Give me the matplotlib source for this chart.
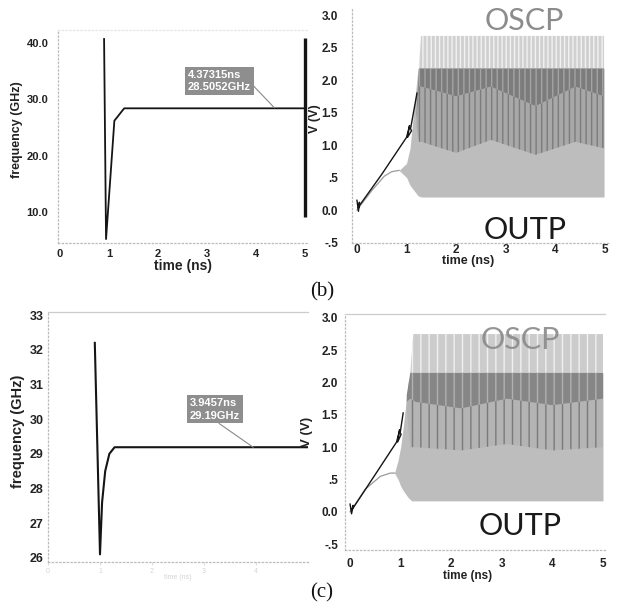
import matplotlib
matplotlib.use('Agg')
import matplotlib.pyplot as plt

plt.rcParams['font.family'] = ['Liberation Sans', 'DejaVu Sans']
plt.rcParams['hatch.linewidth'] = 1.0

# ---- data ----
# (b) frequency vs time
fb_t = [0.90, 0.94, 1.11, 1.31, 5.00]
fb_f = [40.7, 5.2, 26.2, 28.4, 28.4]
fb_edge_t = 5.0
fb_edge_f = [9.1, 40.9]
fb_mark = (4.37315, 28.5052)
fb_text = '4.37315ns\n28.5052GHz'
fb_yticks = [10, 20, 30, 40]
fb_ylabels = ['10.0', '20.0', '30.0', '40.0']

# (c) frequency vs time
fc_t = [0.90, 1.00, 1.04, 1.10, 1.18, 1.28, 5.00]
fc_f = [32.2, 26.1, 27.6, 28.5, 29.0, 29.19, 29.19]
fc_mark = (3.9457, 29.19)
fc_text = '3.9457ns\n29.19GHz'
fc_yticks = [26, 27, 28, 29, 30, 31, 32, 33]

t_ticks = [0, 1, 2, 3, 4, 5]
v_ticks = [-0.5, 0.0, 0.5, 1.0, 1.5, 2.0, 2.5, 3.0]
v_labels = ['-.5', '0.0', '.5', '1.0', '1.5', '2.0', '2.5', '3.0']

# (b) voltage waveforms (envelopes of the fast oscillation)
b_ramp_t = [0.0, 0.03, 0.05, 0.03, 0.06, 0.5, 1.0, 1.06, 1.02, 1.1, 1.08, 1.21]
b_ramp_v = [0.15, -0.02, 0.12, 0.03, 0.08, 0.55, 1.12, 1.3, 1.12, 1.22, 1.25, 1.8]
b_init_t = [0.0, 0.3, 0.55, 0.7, 0.85]
b_init_v = [0.0, 0.3, 0.52, 0.59, 0.61]
b_env_t = [0.85, 1.0, 1.07, 1.23, 1.3, 4.98]
b_env_lo = [0.61, 0.5, 0.38, 0.22, 0.2, 0.2]
b_env_hi = [0.61, 0.72, 0.95, 2.18, 2.18, 2.18]
b_osc_t = [1.25, 1.29, 4.98]
b_osc_hi = [2.18, 2.68, 2.68]
b_osc_lo = [2.18, 2.18, 2.18]
b_dk_t = [1.2, 1.25, 1.3, 2.0, 2.7, 3.6, 4.4, 4.98]
b_dk_top = [1.5, 2.18, 2.18, 2.18, 2.18, 2.18, 2.18, 2.18]
b_dk_mid = [1.4, 1.9, 1.9, 1.75, 1.9, 1.6, 1.9, 1.75]
b_dk_lo = [1.3, 1.05, 1.05, 0.88, 1.08, 0.85, 1.05, 0.95]

# (c) voltage waveforms
c_ramp_t = [0.0, 0.03, 0.06, 0.03, 0.07, 0.5, 0.92, 0.98, 0.94, 1.01, 0.99, 1.05]
c_ramp_v = [0.12, -0.03, 0.1, 0.02, 0.07, 0.58, 1.08, 1.27, 1.08, 1.2, 1.22, 1.53]
c_init_t = [0.0, 0.3, 0.6, 0.8, 0.88]
c_init_v = [0.0, 0.35, 0.55, 0.6, 0.6]
c_env_t = [0.88, 0.95, 1.0, 1.05, 1.15, 1.22, 5.0]
c_env_lo = [0.6, 0.5, 0.4, 0.33, 0.22, 0.17, 0.17]
c_env_hi = [0.6, 0.8, 1.0, 1.3, 2.0, 2.15, 2.15]
c_osc_t = [1.19, 1.25, 5.0]
c_osc_hi = [2.15, 2.75, 2.75]
c_osc_lo = [2.15, 2.15, 2.15]
c_dk_t = [1.12, 1.19, 1.3, 2.2, 3.1, 4.0, 5.0]
c_dk_top = [1.8, 2.15, 2.15, 2.15, 2.15, 2.15, 2.15]
c_dk_mid = [1.7, 1.75, 1.7, 1.6, 1.75, 1.65, 1.75]
c_dk_lo = [1.6, 1.0, 1.0, 0.95, 1.05, 0.95, 1.0]

W, H = 618, 609
fig = plt.figure(figsize=(W / 100, H / 100), dpi=100)


def px_axes(l, t, r, b):
    return fig.add_axes([l / W, 1 - b / H, (r - l) / W, (b - t) / H])


def dotted(ax, sides, color='#bbbbbb'):
    for s in ax.spines:
        ax.spines[s].set_visible(False)
    for s in sides:
        ax.spines[s].set_visible(True)
        ax.spines[s].set_linestyle((0, (1, 2)))
        ax.spines[s].set_color(color)
        ax.spines[s].set_linewidth(0.9)


ink = '#151515'
big = dict(family=['Lato', 'DejaVu Sans'], fontsize=22, ha='center', va='center')

# ---------- (b) left: frequency ----------
ax1 = px_axes(58, 30, 308, 243)
ax1.set_xlim(-0.04, 5.06)
ax1.set_ylim(4.5, 42.3)
dotted(ax1, ['left', 'bottom', 'top'])
ax1.spines['top'].set_color('#e4e4e4')
ax1.plot(fb_t, fb_f, color=ink, lw=1.3)
ax1.vlines(fb_edge_t, fb_edge_f[0], fb_edge_f[1], color=ink, lw=2.4)
ax1.annotate(fb_text, xy=fb_mark, xytext=(2.61, 33.26), ha='left', va='center',
             color='white', fontweight='bold', fontsize=8, linespacing=1.3,
             bbox=dict(boxstyle='square,pad=0.25', fc='#8e8e8e', ec='none'),
             arrowprops=dict(arrowstyle='-', color='#8a8a8a', lw=0.8,
                             shrinkA=0, shrinkB=0, relpos=(1.0, 0.4)))
ax1.set_xticks(t_ticks, [str(t) for t in t_ticks], fontweight='bold')
ax1.set_yticks(fb_yticks, fb_ylabels, fontweight='bold')
ax1.tick_params(length=0, labelsize=8, labelcolor='#222222')
ax1.tick_params(axis='y', pad=7)
ax1.tick_params(axis='x', pad=4)
ax1.set_xlabel('time (ns)', fontsize=10, fontweight='bold', color='#222222')
ax1.set_ylabel('frequency (GHz)', fontsize=9, fontweight='bold', color='#222222')
ax1.xaxis.set_label_coords(0.5, -0.075)
ax1.yaxis.set_label_coords(-0.14, 0.53)

# ---------- (b) right: voltage ----------
ax2 = px_axes(352, 8, 610, 242.5)
ax2.set_xlim(-0.1, 5.1)
ax2.set_ylim(-0.5, 3.11)
dotted(ax2, ['left', 'bottom'])
ax2.fill_between(b_env_t, b_env_lo, b_env_hi, color='#bdbdbd', lw=0)
ax2.fill_between(b_osc_t, b_osc_lo, b_osc_hi, facecolor='#d0d0d0',
                 edgecolor='#f2f2f2', hatch='||||', lw=0)
ax2.fill_between(b_dk_t, b_dk_lo, b_dk_mid, facecolor='#a8a8a8',
                 edgecolor='#7c7c7c', hatch='|||', lw=0)
ax2.fill_between(b_dk_t, b_dk_mid, b_dk_top, facecolor='#7c7c7c',
                 edgecolor='#a4a4a4', hatch='|||', lw=0)
ax2.plot(b_init_t, b_init_v, color='#9a9a9a', lw=0.9)
ax2.plot(b_ramp_t, b_ramp_v, color=ink, lw=1.0)
ax2.text(3.37, 2.91, 'OSCP', color='#8c8c8c', **big)
ax2.text(3.39, -0.31, 'OUTP', color='#1a1a1a', **big)
ax2.set_xticks(t_ticks, [str(t) for t in t_ticks], fontweight='bold')
ax2.set_yticks(v_ticks, v_labels, fontweight='bold')
ax2.tick_params(length=0, labelsize=8.5, labelcolor='#222222')
ax2.tick_params(axis='y', pad=10)
ax2.tick_params(axis='x', pad=1)
ax2.set_xlabel('time (ns)', fontsize=9, fontweight='bold', color='#222222')
ax2.set_ylabel('V (V)', fontsize=9, fontweight='bold', color='#222222')
ax2.xaxis.set_label_coords(0.45, -0.053)
ax2.yaxis.set_label_coords(-0.12, 0.53)

# ---------- (c) left: frequency ----------
ax3 = px_axes(48, 312, 308, 562)
ax3.set_xlim(0, 5.0)
ax3.set_ylim(25.88, 33.09)
dotted(ax3, ['left', 'bottom', 'top'])
ax3.spines['top'].set_linestyle('-')
ax3.spines['top'].set_color('#cccccc')
ax3.plot(fc_t, fc_f, color=ink, lw=1.5)
ax3.annotate(fc_text, xy=fc_mark, xytext=(2.73, 30.28), ha='left', va='center',
             color='white', fontweight='bold', fontsize=8, linespacing=1.3,
             bbox=dict(boxstyle='square,pad=0.25', fc='#8e8e8e', ec='none'),
             arrowprops=dict(arrowstyle='-', color='#8a8a8a', lw=0.8,
                             shrinkA=0, shrinkB=0, relpos=(0.5, 0.0)))
ax3.set_xticks(t_ticks[:5], [str(t) for t in t_ticks[:5]])
ax3.set_yticks(fc_yticks, [str(v) for v in fc_yticks], fontweight='bold')
ax3.tick_params(axis='y', length=0, labelsize=9, labelcolor='#222222', pad=3)
ax3.tick_params(axis='x', length=2, color='#dddddd', labelsize=5,
                labelcolor='#d4d4d4', pad=2)
ax3.set_xlabel('time (ns)', fontsize=5, color='#d4d4d4')
ax3.set_ylabel('frequency (GHz)', fontsize=10.5, fontweight='bold', color='#222222')
ax3.xaxis.set_label_coords(0.5, -0.048)
ax3.yaxis.set_label_coords(-0.088, 0.524)

# ---------- (c) right: voltage ----------
ax4 = px_axes(345, 314, 605, 550)
ax4.set_xlim(-0.1, 5.04)
ax4.set_ylim(-0.59, 3.06)
dotted(ax4, ['left', 'bottom', 'top'])
ax4.spines['top'].set_linestyle('-')
ax4.spines['top'].set_color('#cccccc')
ax4.fill_between(c_env_t, c_env_lo, c_env_hi, color='#bdbdbd', lw=0)
ax4.fill_between(c_osc_t, c_osc_lo, c_osc_hi, facecolor='#cccccc',
                 edgecolor='#f0f0f0', hatch='||', lw=0)
ax4.fill_between(c_dk_t, c_dk_lo, c_dk_mid, facecolor='#b4b4b4',
                 edgecolor='#7a7a7a', hatch='||', lw=0)
ax4.fill_between(c_dk_t, c_dk_mid, c_dk_top, facecolor='#868686',
                 edgecolor='#b0b0b0', hatch='||', lw=0)
ax4.plot(c_init_t, c_init_v, color='#9a9a9a', lw=0.9)
ax4.plot(c_ramp_t, c_ramp_v, color=ink, lw=1.0)
ax4.text(3.36, 2.66, 'OSCP', color='#8a8a8a', alpha=0.9, **big)
ax4.text(3.36, -0.22, 'OUTP', color='#1a1a1a', **big)
ax4.set_xticks(t_ticks, [str(t) for t in t_ticks], fontweight='bold')
ax4.set_yticks(v_ticks, v_labels, fontweight='bold')
ax4.tick_params(length=0, labelsize=8.5, labelcolor='#222222')
ax4.tick_params(axis='y', pad=5)
ax4.tick_params(axis='x', pad=5.5)
ax4.set_xlabel('time (ns)', fontsize=8.5, fontweight='bold', color='#222222')
ax4.set_ylabel('V (V)', fontsize=9.5, fontweight='bold', color='#222222')
ax4.xaxis.set_label_coords(0.473, -0.085)
ax4.yaxis.set_label_coords(-0.123, 0.5)

# sub-figure captions
fig.text(322 / W, 1 - 292 / H, '(b)', family=['Liberation Serif', 'DejaVu Serif'],
         fontsize=15, ha='center', va='center', color='#111111')
fig.text(322 / W, 1 - 593 / H, '(c)', family=['Liberation Serif', 'DejaVu Serif'],
         fontsize=15, ha='center', va='center', color='#111111')

fig.savefig('out.png', dpi=100)
